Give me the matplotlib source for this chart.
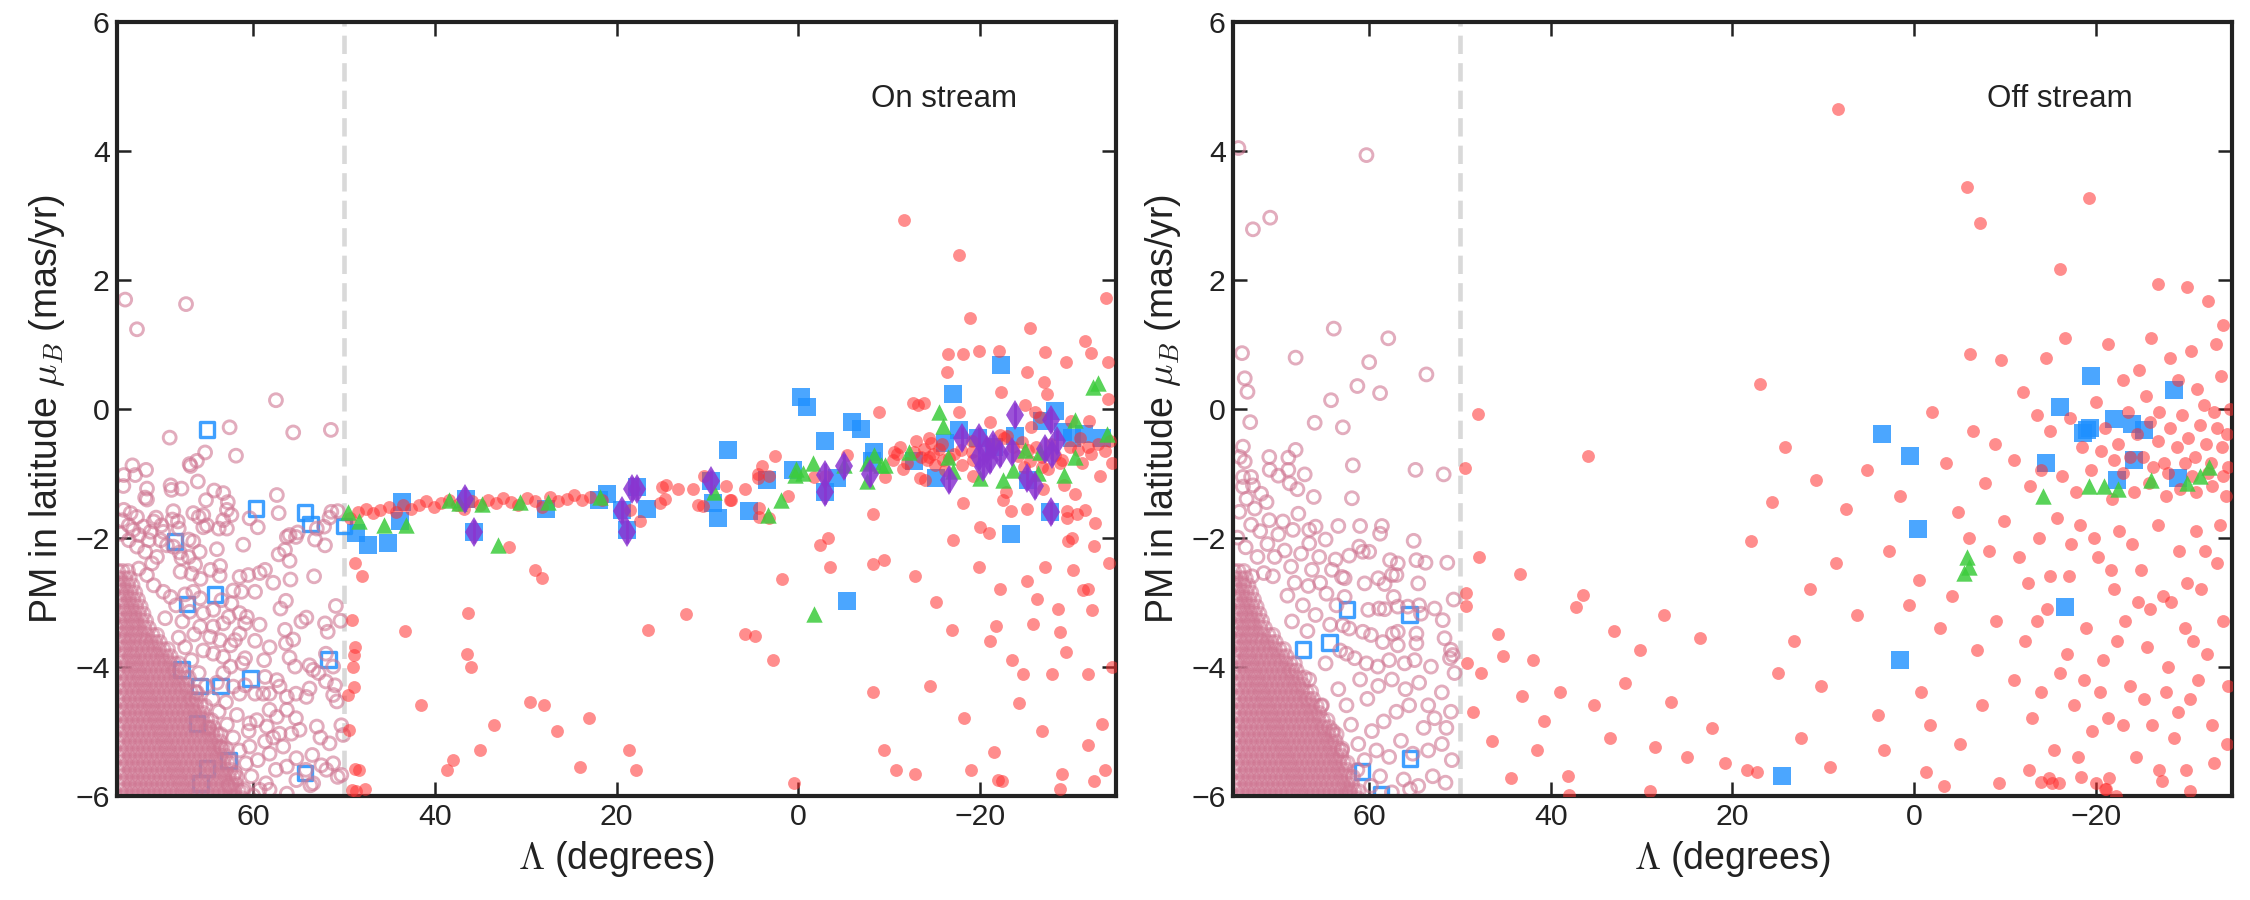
import numpy as np
import matplotlib
matplotlib.use("Agg")
import matplotlib.pyplot as plt

plt.rcParams["font.family"] = ["Liberation Sans", "DejaVu Sans"]
plt.rcParams["mathtext.fontset"] = "cm"

# ---- colours ----
PINK = "#cf7692"
RED = "#ff3030"
BLUE = "#1e90ff"
GREEN = "#3ccc3c"
PURPLE = "#8a35d0"

# ---- dense wedge of field stars (open circles), same in both panels: (mu, [Lambda...]) ----
core_rows = [
    (-2.52, [74.9, 74.4, 73.8]),
    (-2.63, [74.7, 74.1, 73.6]),
    (-2.74, [74.9, 74.3, 73.8, 73.3]),
    (-2.85, [74.6, 74.0, 73.5, 73.0]),
    (-2.96, [74.8, 74.3, 73.7, 73.2, 72.7]),
    (-3.07, [74.5, 74.0, 73.4, 72.9, 72.4]),
    (-3.18, [74.8, 74.2, 73.7, 73.1, 72.6, 72.1]),
    (-3.29, [74.6, 74.0, 73.4, 72.9, 72.3, 71.8]),
    (-3.40, [74.9, 74.3, 73.8, 73.2, 72.6, 72.0, 71.5]),
    (-3.51, [74.6, 74.0, 73.4, 72.9, 72.3, 71.7, 71.1, 70.6]),
    (-3.62, [74.8, 74.2, 73.7, 73.1, 72.5, 71.9, 71.3, 70.8, 70.3]),
    (-3.73, [74.5, 74.0, 73.4, 72.8, 72.2, 71.6, 71.0, 70.4, 69.9, 69.4]),
    (-3.84, [74.8, 74.2, 73.6, 73.1, 72.5, 71.9, 71.3, 70.7, 70.1, 69.6, 69.1]),
    (-3.95, [74.5, 73.9, 73.3, 72.8, 72.2, 71.6, 71.0, 70.4, 69.8, 69.2, 68.7, 68.2]),
    (-4.06, [74.8, 74.2, 73.6, 73.0, 72.5, 71.9, 71.3, 70.7, 70.1, 69.5, 68.9, 68.5, 68.0]),
    (-4.17, [74.5, 73.9, 73.3, 72.7, 72.2, 71.6, 71.0, 70.4, 69.8, 69.2, 68.6, 68.1, 67.6, 67.1]),
    (-4.28, [74.8, 74.2, 73.6, 73.0, 72.4, 71.9, 71.3, 70.7, 70.1, 69.5, 68.9, 68.3, 67.8, 67.3]),
    (-4.39, [74.5, 73.9, 73.3, 72.7, 72.1, 71.6, 71.0, 70.4, 69.8, 69.2, 68.6, 68.0, 67.4, 66.9, 66.4]),
    (-4.50, [74.8, 74.2, 73.6, 73.0, 72.4, 71.8, 71.3, 70.7, 70.1, 69.5, 68.9, 68.3, 67.7, 67.1, 66.7, 66.2]),
    (-4.61, [74.5, 73.9, 73.3, 72.7, 72.1, 71.5, 71.0, 70.4, 69.8, 69.2, 68.6, 68.0, 67.4, 66.8, 66.3, 65.8, 65.3]),
    (-4.72, [74.8, 74.2, 73.6, 73.0, 72.4, 71.8, 71.2, 70.7, 70.1, 69.5, 68.9, 68.3, 67.7, 67.1, 66.5, 66.0, 65.5]),
    (-4.83, [74.5, 73.9, 73.3, 72.7, 72.1, 71.5, 70.9, 70.4, 69.8, 69.2, 68.6, 68.0, 67.4, 66.8, 66.2, 65.6, 65.1, 64.6]),
    (-4.94, [74.8, 74.2, 73.6, 73.0, 72.4, 71.8, 71.2, 70.6, 70.1, 69.5, 68.9, 68.3, 67.7, 67.1, 66.5, 65.9, 65.3, 64.9, 64.4]),
    (-5.05, [74.5, 73.9, 73.3, 72.7, 72.1, 71.5, 70.9, 70.3, 69.8, 69.2, 68.6, 68.0, 67.4, 66.8, 66.2, 65.6, 65.0, 64.5, 64.0, 63.6]),
    (-5.16, [74.8, 74.2, 73.6, 73.0, 72.4, 71.8, 71.2, 70.6, 70.0, 69.5, 68.9, 68.3, 67.7, 67.1, 66.5, 65.9, 65.3, 64.7, 64.2, 63.7]),
    (-5.27, [74.5, 73.9, 73.3, 72.7, 72.1, 71.5, 70.9, 70.3, 69.7, 69.2, 68.6, 68.0, 67.4, 66.8, 66.2, 65.6, 65.0, 64.4, 63.9, 63.4, 63.0]),
    (-5.38, [74.8, 74.2, 73.6, 73.0, 72.4, 71.8, 71.2, 70.6, 70.0, 69.4, 68.9, 68.3, 67.7, 67.1, 66.5, 65.9, 65.3, 64.7, 64.1, 63.6, 63.1]),
    (-5.49, [74.5, 73.9, 73.3, 72.7, 72.1, 71.5, 70.9, 70.3, 69.7, 69.1, 68.6, 68.0, 67.4, 66.8, 66.2, 65.6, 65.0, 64.4, 63.8, 63.3, 62.8, 62.4]),
    (-5.60, [74.8, 74.2, 73.6, 73.0, 72.4, 71.8, 71.2, 70.6, 70.0, 69.4, 68.8, 68.3, 67.7, 67.1, 66.5, 65.9, 65.3, 64.7, 64.1, 63.5, 63.0, 62.5]),
    (-5.71, [74.5, 73.9, 73.3, 72.7, 72.1, 71.5, 70.9, 70.3, 69.7, 69.1, 68.5, 68.0, 67.4, 66.8, 66.2, 65.6, 65.0, 64.4, 63.8, 63.2, 62.7, 62.2, 61.8]),
    (-5.82, [74.8, 74.2, 73.6, 73.0, 72.4, 71.8, 71.2, 70.6, 70.0, 69.4, 68.8, 68.2, 67.7, 67.1, 66.5, 65.9, 65.3, 64.7, 64.1, 63.5, 62.9, 62.4, 61.9]),
    (-5.93, [74.5, 73.9, 73.3, 72.7, 72.1, 71.5, 70.9, 70.3, 69.7, 69.1, 68.5, 67.9, 67.4, 66.8, 66.2, 65.6, 65.0, 64.4, 63.8, 63.2, 62.6, 62.1, 61.6, 61.2]),
    (-6.04, [74.8, 74.2, 73.6, 73.0, 72.4, 71.8, 71.2, 70.6, 70.0, 69.4, 68.8, 68.2, 67.6, 67.1, 66.5, 65.9, 65.3, 64.7, 64.1, 63.5, 62.9, 62.3, 61.8, 61.3]),
]

# ---- left panel (on stream) ----
left_pink = [
    (74.1, 1.69), (67.4, 1.62), (72.8, 1.23), (57.5, 0.13),
    (62.6, -0.29), (69.2, -0.45), (55.6, -0.37), (51.45, -0.33), (65.3, -0.68), (61.9, -0.73),
    (67.0, -0.86), (66.9, -0.89), (66.2, -0.81), (73.3, -0.88), (71.8, -0.95), (74.25, -1.03),
    (73.0, -1.03), (74.3, -1.2), (71.7, -1.24), (71.9, -1.38), (71.7, -1.41), (69.1, -1.19),
    (69.0, -1.26), (67.9, -1.24), (66.1, -1.13), (64.3, -1.27), (65.2, -1.42), (63.3, -1.31),
    (62.8, -1.45), (62.4, -1.65), (62.9, -1.57), (63.3, -1.73), (66.6, -1.62), (66.0, -1.68),
    (65.5, -1.65), (65.1, -1.81), (65.5, -1.84), (68.8, -1.59), (68.9, -1.72), (68.2, -1.86),
    (68.3, -1.75), (70.7, -1.69), (70.1, -1.81), (69.9, -1.91), (60.4, -1.7), (59.5, -1.84),
    (57.2, -1.62), (57.4, -1.34), (63.8, -1.86), (62.9, -1.86), (51.4, -1.6), (52.2, -1.83),
    (53.0, -1.86), (51.6, -1.69), (50.7, -1.59), (56.3, -1.99), (56.0, -1.96), (55.3, -1.99),
    (55.1, -1.92), (53.2, -2.03), (52.1, -2.12), (57.2, -2.26), (56.5, -2.19), (56.0, -2.36),
    (61.1, -2.11), (64.0, -2.18), (67.1, -2.03), (66.6, -2.06), (65.9, -2.22), (67.1, -2.3),
    (66.4, -2.42), (66.8, -2.56), (68.1, -2.23), (67.9, -2.32), (68.0, -2.53), (63.65, -2.44),
    (63.7, -2.59), (64.7, -2.5), (65.8, -2.64), (61.5, -2.61), (60.55, -2.58), (59.3, -2.55),
    (58.7, -2.5), (62.2, -2.82), (61.3, -2.84), (59.8, -2.84), (56.4, -2.98), (54.15, -3.24),
    (50.9, -3.06), (50.4, -3.29), (52.1, -3.33), (51.8, -3.46), (56.5, -3.43), (55.6, -3.58),
    (56.4, -3.64), (59.8, -3.6), (60.9, -3.87), (61.2, -3.95), (56.0, -3.86), (55.4, -4.0),
    (53.8, -3.98), (53.4, -4.05), (52.8, -4.1), (51.2, -4.0), (52.0, -3.8), (52.0, -4.23),
    (51.0, -4.29), (51.2, -4.44), (50.8, -4.54), (53.8, -4.34), (54.15, -4.47), (55.3, -4.42),
    (56.3, -4.67), (55.3, -4.8), (54.9, -4.98), (55.8, -5.04), (57.1, -5.04), (57.8, -5.1),
    (56.7, -5.24), (53.0, -4.93), (51.6, -5.19), (50.3, -4.91), (50.1, -5.06), (53.5, -5.37),
    (52.5, -5.53), (51.2, -5.5), (51.95, -5.6), (50.7, -5.71), (50.3, -5.68), (53.4, -5.81),
    (53.7, -5.84), (55.25, -5.76), (58.6, -5.81), (58.2, -5.91), (59.3, -5.91), (56.3, -5.97),
    (55.25, -5.42), (56.3, -5.55), (58.2, -5.35), (58.7, -5.16), (60.4, -5.24), (57.4, -4.78),
    (58.2, -4.67), (59.6, -4.83), (58.5, -4.93), (60.4, -4.88), (58.9, -4.42), (58.2, -4.42),
    (57.1, -4.31), (56.3, -4.47), (57.4, -4.21), (58.7, -4.16), (59.8, -4.42), (60.9, -4.29),
    (61.5, -4.42), (62.5, -4.0), (63.3, -4.1), (62.2, -4.31), (64.4, -3.8), (63.3, -3.85),
    (62.5, -3.67), (61.5, -3.49), (62.0, -3.59), (63.65, -3.59), (64.75, -3.54), (64.4, -3.38),
    (60.9, -3.33), (60.7, -3.23), (61.5, -3.17), (62.7, -3.23), (63.3, -3.33), (64.4, -3.12),
    (65.5, -3.17), (65.85, -3.38), (62.4, -3.02), (63.5, -2.97), (65.85, -2.94), (66.6, -2.84),
    (67.5, -2.88), (69.1, -2.92), (69.9, -2.84), (70.96, -2.74), (71.7, -2.58), (72.6, -2.48),
    (71.15, -2.4), (70.6, -2.3), (71.9, -2.22), (72.8, -2.14), (73.7, -2.04), (72.6, -1.96),
    (71.5, -2.04), (70.2, -2.04), (69.5, -2.12), (68.8, -2.14), (74.25, -1.57), (73.5, -1.62),
    (72.8, -1.68), (74.4, -1.73), (73.7, -1.81), (73.2, -1.88), (74.6, -1.94), (72.06, -1.83),
    (71.3, -1.91), (70.96, -1.75),
    (67.5, -3.7), (66.8, -3.9), (66.0, -4.1), (65.2, -4.3), (64.5, -4.5), (63.8, -4.7),
    (62.9, -4.9), (62.2, -5.1), (61.5, -5.3), (60.8, -5.5), (60.2, -5.7), (61.0, -5.9),
    (63.0, -4.55), (61.8, -4.75), (60.5, -5.0), (59.5, -5.45), (62.0, -5.65), (64.0, -4.25),
    (65.5, -3.75), (66.5, -3.5), (67.8, -3.3), (68.5, -3.05), (69.7, -3.25), (68.2, -3.55),
    (67.0, -3.15), (66.2, -4.4), (64.9, -4.95), (63.6, -5.25), (62.7, -5.85), (60.0, -6.0),
    (57.5, -5.6), (57.0, -3.1), (58.2, -3.7), (58.8, -3.9), (59.3, -3.35), (57.8, -2.7),
    (54.7, -3.3), (53.3, -2.6), (55.9, -2.65), (52.6, -5.1), (54.2, -5.6),
]

left_red = [
    (49.3, -1.69), (48.5, -1.6), (47.6, -1.55), (46.8, -1.62), (46.0, -1.57), (45.1, -1.52),
    (44.3, -1.6), (43.5, -1.5), (42.6, -1.56), (41.8, -1.5), (41.0, -1.44), (40.1, -1.52),
    (39.3, -1.47), (38.4, -1.42), (37.6, -1.5), (36.8, -1.55), (35.9, -1.44), (35.0, -1.5),
    (34.2, -1.41), (33.3, -1.47), (32.5, -1.38), (31.6, -1.45), (30.8, -1.5), (29.9, -1.39),
    (29.0, -1.44), (28.2, -1.52), (27.3, -1.37), (26.4, -1.44), (25.5, -1.4), (24.7, -1.34),
    (23.8, -1.42), (22.9, -1.37), (21.6, -1.41),
    (18.5, -1.57), (17.4, -1.74), (15.0, -1.21), (14.5, -1.19), (13.2, -1.24), (11.6, -1.24),
    (15.2, -1.46), (14.7, -1.4), (10.4, -1.04), (11.0, -1.49), (10.5, -1.51), (7.9, -1.2),
    (7.5, -1.42), (7.4, -1.42), (5.8, -1.25), (4.0, -0.89), (4.4, -1.02), (4.4, -1.07),
    (3.2, -1.05), (2.5, -0.73), (1.1, -1.35), (4.3, -1.54), (4.3, -1.68), (3.2, -1.7),
    (-1.7, -1.06), (-2.9, -1.05), (-5.4, -0.72),
    (-16.5, 0.85), (-18.1, 0.85), (-19.9, 0.9), (-22.1, 0.9), (-27.2, 0.88), (-29.5, 0.72),
    (-16.4, 0.56), (-25.2, 0.56), (-27.1, 0.41), (-27.4, 0.22), (-22.3, 0.26), (-8.9, -0.05),
    (-12.6, 0.09), (-13.2, 0.05), (-13.8, 0.08), (-17.7, -0.05), (-21.1, -0.2), (-25.0, 0.05),
    (-26.1, -0.05), (-25.6, -0.28), (-30.0, -0.19), (-32.0, -0.19),
    (-9.6, -1.06), (-10.5, -0.67), (-10.9, -0.7), (-11.5, -0.94), (-10.4, -0.8),
    (-14.4, -0.46), (-14.6, -0.54), (-15.5, -0.62), (-14.4, -0.75), (-14.2, -0.8), (-15.1, -0.88),
    (-16.0, -0.8), (-16.6, -0.77), (-18.0, -0.88), (-19.1, -0.67), (-19.3, -0.8), (-17.9, -0.64),
    (-19.1, -0.5), (-13.4, -1.08), (-14.0, -1.11), (-18.1, -1.46), (-19.2, -1.05), (-22.2, -0.41),
    (-23.0, -0.43), (-22.7, -0.46), (-22.9, -1.3), (-22.5, -1.42), (-23.4, -1.58), (-25.2, -1.56),
    (-24.2, -0.74), (-25.5, -0.82), (-25.3, -0.64), (-27.0, -1.25), (-26.8, -0.9), (-27.5, -0.93),
    (-29.3, -1.18), (-30.5, -1.33), (-29.6, -1.58), (-29.6, -1.7), (-30.7, -1.64), (-31.6, -1.57),
    (-29.7, -2.06), (-30.1, -2.01), (-29.9, -0.59), (-30.8, -0.64), (-31.9, -0.59), (-29.0, -0.8),
    (-28.8, -0.85), (-20.0, -1.83), (-21.0, -1.93), (-17.0, -2.04), (-8.2, -1.63), (-2.4, -2.12),
    (-3.3, -2.01), (-3.5, -2.46), (1.8, -2.64), (-8.2, -2.41), (-9.5, -2.34), (-12.9, -2.59),
    (-15.2, -3.0), (-19.9, -2.45), (-27.2, -2.45), (-25.2, -2.67), (-22.2, -2.79), (-26.3, -2.95),
    (-28.6, -3.1), (-31.4, -2.82), (-31.9, -2.79), (-32.6, -2.13), (-32.7, -1.78), (-21.8, -3.37),
    (-21.1, -3.6), (-25.9, -3.34), (-28.8, -3.46), (12.4, -3.18), (16.5, -3.44), (5.9, -3.49),
    (4.8, -3.53), (-32.4, -3.12),
    (-13.9, -0.62), (-14.8, -0.7), (-15.8, -0.55), (-13.5, -0.75), (-12.8, -0.68), (-16.2, -0.95),
    (-12.0, -0.85), (-11.2, -0.6), (-17.2, -0.7), (-13.0, -0.5),
    (-21.5, -0.55), (-23.6, -0.6), (-24.6, -0.52), (-26.2, -0.6), (-27.8, -0.55), (-28.3, -0.72),
    (-31.0, -0.45), (-32.2, -0.7), (-33.0, -0.55), (-33.8, -0.65), (-34.3, -0.5), (-26.9, -0.75),
    (-24.9, -0.9), (-31.3, -0.85), (-33.2, -1.05), (-34.5, -0.85),
    (-33.9, 1.71), (-25.5, 1.25), (-31.6, 1.05), (-32.2, 0.86), (-34.1, 0.73), (-26.6, -0.13),
    (-34.1, 0.15), (-11.7, 2.93), (-17.7, 2.38), (-18.9, 1.4),
    (-27.9, -4.11), (-29.5, -3.78), (-31.9, -4.11), (-24.3, -4.56), (-26.8, -5.0), (-31.9, -5.22),
    (-33.4, -4.89), (-21.6, -5.33), (-29.0, -5.67), (-32.6, -5.78), (-22.4, -5.78), (-24.8, -4.11),
    (-10.8, -5.6), (-19.0, -5.6), (-22.0, -5.76), (-28.8, -5.89), (48.3, -5.6), (47.7, -5.9),
    (48.7, -5.93), (38.7, -5.6), (17.9, -5.6),
    (48.8, -2.39), (48.0, -2.6), (29.0, -2.5), (28.2, -2.63), (36.3, -3.17), (31.8, -2.14),
    (49.1, -3.28), (48.85, -3.69), (48.95, -3.82), (49.0, -4.0), (48.95, -4.31), (49.6, -4.44),
    (49.5, -4.98), (48.85, -5.58), (49.1, -5.91),
    (43.3, -3.45), (41.5, -4.6), (38.0, -5.45), (36.5, -3.8), (36.0, -4.0), (35.0, -5.3),
    (33.5, -4.9), (29.5, -4.55), (28.0, -4.6), (26.5, -5.0), (24.0, -5.55), (23.0, -4.8),
    (18.6, -5.29), (2.8, -3.9), (0.5, -5.8), (-8.2, -4.4), (-9.5, -5.3), (-12.9, -5.67),
    (-16.9, -3.44), (-14.5, -4.3), (-18.3, -4.8), (-34.2, -2.4), (-34.6, -4.0), (-33.8, -5.6),
    (-23.5, -3.9), (-30.3, -2.5),
]

left_blue = [
    (48.7, -1.93), (47.4, -2.12), (45.2, -2.08), (43.6, -1.45), (43.8, -1.75), (36.6, -1.4),
    (35.7, -1.91), (27.8, -1.55), (21.0, -1.32), (21.9, -1.41), (19.4, -1.57), (18.9, -1.88),
    (17.8, -1.22), (16.6, -1.55), (9.56, -1.13), (9.4, -1.46), (8.8, -1.69), (7.7, -0.64),
    (5.4, -1.59), (3.46, -1.1), (0.6, -0.95), (-0.27, 0.18), (-0.93, 0.03), (-2.9, -0.51),
    (-2.9, -1.3), (-4.3, -1.07), (-5.9, -0.2), (-6.96, -0.31), (-8.4, -0.67), (-8.1, -0.82),
    (-5.35, -2.98), (-12.7, -0.81), (-15.2, -1.07), (-16.2, -0.53), (-17.1, 0.22), (-17.7, -0.33),
    (-19.8, -0.46), (-22.3, 0.67), (-23.9, -0.43), (-23.4, -1.95), (-21.6, -0.59), (-26.9, -0.19),
    (-28.3, -0.03), (-29.2, -0.37), (-25.3, -1.11), (-30.1, -0.46), (-27.7, -1.61), (-31.5, -0.4),
    (-33.4, -0.45),
]
left_blue_open = [
    (65.1, -0.32), (59.7, -1.55), (54.3, -1.61), (53.7, -1.79), (50.0, -1.82), (68.6, -2.06),
    (64.2, -2.88), (67.3, -3.03), (51.7, -3.89), (60.3, -4.18), (63.6, -4.3), (65.9, -4.3),
    (67.9, -4.05), (66.2, -4.88), (62.7, -5.46), (65.1, -5.58), (54.3, -5.65), (65.8, -5.81),
]
left_green = [
    (49.6, -1.6), (48.4, -1.75), (45.6, -1.8), (43.2, -1.8), (38.5, -1.42), (37.3, -1.47),
    (34.8, -1.48), (33.0, -2.12), (30.6, -1.45), (27.6, -1.45), (21.8, -1.37), (9.3, -1.29),
    (1.9, -1.42), (3.3, -1.65), (0.24, -0.93), (-0.49, -1.0), (0.35, -1.03), (-1.66, -0.85),
    (-1.7, -3.18), (-5.1, -0.88), (-7.6, -0.85), (-7.6, -1.13), (-9.1, -0.88), (-9.6, -0.88),
    (-8.3, -0.72), (-12.2, -0.67), (-15.5, -0.05), (-16.0, -0.27), (-16.5, -0.75), (-17.0, -0.96),
    (-20.0, -1.08), (-22.5, -1.11), (-23.6, -0.95), (-25.0, -0.64), (-26.6, -0.67), (-26.4, -1.0),
    (-30.5, -0.18), (-30.5, -0.75), (-29.3, -1.03), (-32.5, 0.34), (-33.0, 0.39), (-34.0, -0.4),
]
left_purple = [
    (36.7, -1.4), (35.7, -1.91), (18.3, -1.24), (17.8, -1.24), (19.4, -1.59), (18.9, -1.91),
    (9.6, -1.13), (-2.97, -1.03), (-2.94, -1.3), (-5.1, -0.89), (-7.9, -1.02), (-16.6, -1.11),
    (-18.0, -0.46), (-19.9, -0.46), (-19.9, -0.75), (-20.4, -0.9), (-20.8, -0.64), (-21.5, -0.57),
    (-22.2, -0.71), (-21.1, -0.8), (-23.5, -0.67), (-23.9, -0.1), (-25.2, -1.08), (-26.1, -1.2),
    (-27.2, -0.62), (-27.9, -0.7), (-28.5, -0.51), (-27.8, -0.18), (-27.8, -1.61),
]

# ---- right panel (off stream) ----
right_pink = [
    (74.4, 4.04), (72.8, 2.78), (70.9, 2.96), (60.3, 3.93), (57.9, 1.09), (63.9, 1.24),
    (74.0, 0.86), (73.7, 0.47), (73.4, 0.26), (68.1, 0.79), (60.0, 0.72), (53.7, 0.53),
    (61.3, 0.35), (58.8, 0.24), (64.2, 0.13), (73.1, -0.21), (66.0, -0.22), (62.9, -0.29),
    (73.9, -0.59), (73.7, -0.82), (74.25, -0.75), (71.0, -0.75), (70.95, -0.95), (70.0, -1.04),
    (68.9, -0.76), (68.9, -0.95), (68.1, -0.64), (67.1, -1.02), (68.75, -1.16), (67.9, -1.25),
    (66.1, -1.37), (61.8, -0.88), (61.9, -1.39), (54.9, -0.95), (51.8, -1.02), (73.9, -1.06),
    (73.0, -1.06), (73.9, -1.21), (72.8, -1.19), (71.9, -1.32), (71.3, -1.45), (71.0, -1.73),
    (69.5, -1.75), (67.8, -1.63), (68.4, -1.88), (66.6, -1.88), (65.9, -1.83), (66.6, -2.09),
    (63.4, -1.82), (61.0, -1.82), (58.6, -1.82), (58.8, -1.94), (55.1, -2.05), (64.8, -2.03),
    (63.7, -2.34), (62.2, -2.28), (61.1, -2.14), (60.7, -2.22), (60.0, -2.22), (57.7, -2.35),
    (56.85, -2.4), (54.8, -2.35), (53.8, -2.39), (51.4, -2.39), (64.1, -2.5), (62.7, -2.63),
    (63.0, -2.61), (60.5, -2.71), (59.0, -2.63), (58.3, -2.72), (57.5, -2.58), (57.0, -2.58),
    (54.6, -2.71), (64.7, -2.87), (63.6, -3.05), (62.7, -2.92), (60.1, -3.12), (58.9, -3.1),
    (58.3, -3.11), (57.3, -2.92), (56.85, -3.07), (55.75, -3.07), (54.5, -3.05), (54.3, -3.18),
    (52.8, -3.1), (51.9, -3.28), (50.7, -2.96), (62.9, -3.36), (62.2, -3.41), (60.7, -3.46),
    (59.8, -3.51), (57.4, -3.49), (56.85, -3.46), (54.8, -3.49), (51.7, -3.56), (51.0, -3.74),
    (51.1, -3.87), (50.8, -3.82), (58.5, -3.62), (56.85, -3.67), (54.8, -3.64), (55.0, -3.9),
    (56.1, -3.95), (57.8, -3.9), (59.05, -4.0), (60.3, -3.95), (61.6, -3.87), (62.5, -3.8),
    (73.5, -1.4), (72.6, -1.55), (74.3, -1.6), (73.0, -1.8), (72.0, -1.9), (74.5, -2.0),
    (73.6, -2.15), (72.3, -2.3), (71.2, -2.1), (70.4, -2.3), (70.0, -1.95), (69.3, -2.2),
    (68.6, -2.45), (67.5, -2.25), (66.3, -2.5), (65.5, -2.3), (65.4, -2.7), (66.7, -2.75),
    (68.2, -2.7), (69.0, -2.9), (70.6, -2.6), (71.6, -2.55), (72.9, -2.6), (67.3, -3.05),
    (65.9, -3.2), (64.3, -3.35), (66.8, -3.45), (68.5, -3.3), (63.2, -3.75), (64.8, -3.95),
    (61.0, -4.2), (60.2, -4.5), (59.0, -4.3), (57.5, -4.2), (56.0, -4.35), (54.5, -4.25),
    (53.2, -4.0), (52.0, -4.4), (51.0, -4.7), (52.8, -4.8), (54.0, -4.95), (55.6, -4.6),
    (57.0, -4.7), (58.4, -4.85), (59.7, -5.0), (61.2, -5.2), (60.5, -5.45), (59.2, -5.3),
    (57.8, -5.4), (56.5, -5.15), (55.2, -5.35), (53.5, -5.3), (52.0, -5.2), (50.9, -5.45),
    (51.6, -5.8), (53.0, -5.7), (54.6, -5.85), (56.2, -5.75), (57.5, -5.95), (58.8, -5.7),
    (59.8, -5.85), (62.5, -4.6), (63.4, -4.35), (62.0, -4.9), (61.3, -5.6), (63.0, -5.3),
    (65.2, -4.6), (66.6, -4.2), (64.0, -5.0), (62.2, -5.95), (50.6, -4.1), (51.5, -4.95),
    (53.5, -4.6), (55.5, -5.9),
]

right_red = [
    (48.0, -0.09), (49.4, -0.92), (47.9, -2.3), (43.4, -2.57), (49.3, -2.86), (49.3, -3.06),
    (45.8, -3.49), (45.3, -3.84), (49.2, -3.94), (47.7, -4.1), (44.4, -5.72), (48.6, -4.7),
    (46.5, -5.15), (43.2, -4.45), (41.5, -5.3), (42.0, -3.9), (40.8, -4.85),
    (35.9, -0.74), (36.5, -2.89), (37.2, -3.08), (38.1, -5.69), (38.0, -5.99), (29.1, -5.93),
    (39.0, -4.4), (35.2, -4.6), (33.5, -5.1), (31.8, -4.25), (30.2, -3.75), (28.5, -5.25),
    (26.8, -4.55), (25.0, -5.4), (23.6, -3.55), (22.2, -4.95), (20.8, -5.5), (33.0, -3.45),
    (27.5, -3.2),
    (17.0, 0.38), (8.4, 4.65), (18.4, -5.6), (17.3, -5.63), (18.0, -2.05), (15.6, -1.45),
    (13.2, -3.6), (11.5, -2.8), (10.2, -4.3), (8.6, -2.4), (7.5, -1.55), (6.3, -3.2),
    (5.2, -0.95), (4.0, -4.75), (2.8, -2.2), (1.5, -1.35), (0.6, -3.05), (-0.5, -2.65),
    (12.4, -5.1), (15.0, -4.1), (9.3, -5.55), (3.3, -5.3), (-1.3, -5.63), (-0.8, -4.4),
    (14.2, -0.6), (10.8, -1.1),
    (-5.8, 3.44), (-7.3, 2.88), (-6.2, 0.85), (-9.6, 0.75), (-2.0, -0.05), (-3.5, -0.85),
    (-4.8, -1.6), (-6.5, -0.35), (-7.8, -1.15), (-8.9, -0.55), (-2.8, -3.4), (-4.2, -2.9),
    (-6.9, -3.75), (-8.2, -2.2), (-9.4, -5.81), (-1.8, -4.9), (-5.0, -5.2), (-7.5, -4.6),
    (-3.3, -5.85), (-9.0, -3.3), (-6.0, -2.0), (-9.9, -1.75),
    (-16.1, 2.16), (-19.3, 3.27), (-26.9, 1.93), (-30.1, 1.89), (-32.4, 1.67), (-34.0, 1.3),
    (-21.4, 1.0), (-23.0, 0.44), (-26.1, 1.1), (-28.2, 0.78), (-30.5, 0.9), (-33.2, 1.0),
    (-16.6, 1.1), (-14.5, 0.78), (-12.0, 0.25), (-13.5, -0.1), (-15.0, -0.35), (-17.2, -0.15),
    (-18.5, -0.6), (-20.0, 0.1), (-21.0, -0.3), (-22.5, -0.55), (-23.6, -0.05), (-24.5, -0.4),
    (-25.2, -0.75), (-26.0, -0.2), (-26.8, -0.5), (-27.5, -0.85), (-28.2, -0.3), (-28.9, -0.6),
    (-29.5, -0.1), (-30.2, -0.45), (-30.9, -0.75), (-31.5, -0.25), (-32.1, -0.55), (-32.7, -0.85),
    (-33.3, -0.3), (-33.9, -0.6), (-34.5, -0.4), (-34.6, -0.9), (-31.2, 0.3), (-29.0, 0.45),
    (-25.5, 0.2), (-33.8, 0.5), (-11.0, -0.8), (-12.8, -1.2), (-14.0, -0.95), (-16.3, -1.05),
    (-17.8, -1.3), (-19.5, -0.95), (-21.8, -1.4), (-23.0, -1.0), (-24.2, -1.3), (-25.9, -1.15),
    (-27.7, -1.35), (-29.3, -1.25), (-31.0, -1.3), (-32.8, -1.2), (-34.3, -1.35), (-22.0, -0.8),
    (-27.0, -0.05), (-24.8, 0.6), (-20.6, -0.65), (-34.8, 0.0), (-33.0, -0.05), (-31.9, 0.05),
    (-29.8, -0.85), (-28.0, -1.0), (-26.3, -0.9), (-23.8, -0.75), (-32.4, -1.0), (-30.6, -1.05),
    (-34.0, -1.05),
    (-11.5, -2.3), (-12.2, -3.6), (-13.0, -4.8), (-13.8, -2.0), (-14.6, -3.1), (-15.4, -5.3),
    (-16.1, -4.1), (-17.0, -2.6), (-17.6, -4.6), (-18.3, -1.8), (-18.9, -3.4), (-19.6, -5.0),
    (-20.2, -2.3), (-20.8, -3.9), (-21.4, -4.8), (-22.0, -2.8), (-22.6, -1.9), (-23.2, -3.3),
    (-23.8, -4.3), (-24.4, -5.4), (-25.0, -2.5), (-25.6, -3.7), (-26.2, -4.9), (-26.8, -1.8),
    (-27.4, -2.9), (-28.0, -4.0), (-28.6, -5.1), (-29.2, -2.2), (-29.8, -3.4), (-30.4, -4.5),
    (-31.0, -1.9), (-31.6, -2.8), (-32.2, -3.8), (-32.8, -4.9), (-33.4, -2.4), (-34.0, -3.3),
    (-34.6, -4.3), (-12.7, -5.6), (-15.0, -2.6), (-18.0, -5.4), (-21.0, -5.9), (-24.0, -2.1),
    (-27.0, -5.6), (-30.0, -2.7), (-33.0, -5.5), (-11.0, -4.2), (-14.0, -4.4), (-19.8, -2.0),
    (-23.0, -4.9), (-26.0, -3.1), (-29.0, -4.7), (-32.0, -2.2), (-34.5, -5.2), (-16.8, -3.8),
    (-22.3, -3.6), (-28.3, -3.0), (-31.3, -4.2), (-25.3, -4.5), (-20.5, -4.4), (-13.5, -3.3),
    (-17.3, -2.1), (-33.7, -1.8), (-30.7, -3.6), (-27.7, -4.4), (-24.7, -3.0), (-21.7, -2.5),
    (-18.7, -4.2), (-15.7, -1.7), (-12.5, -2.7),
    (-14.0, -5.79), (-14.8, -5.72), (-15.2, -5.8), (-16.0, -5.8), (-18.4, -5.71), (-20.0, -5.81),
    (-21.5, -5.72), (-21.1, -5.89), (-22.2, -6.0), (-27.3, -5.77), (-29.9, -5.6), (-30.4, -5.93),
]

right_blue = [
    (3.5, -0.4), (0.4, -0.73), (-0.4, -1.87), (1.5, -3.89), (14.6, -5.69), (-14.5, -0.84),
    (-16.1, 0.02), (-16.6, -3.07), (-19.0, -0.33), (-18.6, -0.38), (-19.4, -0.3), (-19.5, 0.51),
    (-22.0, -0.16), (-24.0, -0.24), (-25.3, -0.33), (-24.2, -0.8), (-22.3, -1.1), (-28.6, 0.29),
    (-29.0, -1.07),
]
right_blue_open = [
    (62.45, -3.12), (55.6, -3.19), (64.4, -3.63), (67.3, -3.74), (60.8, -5.63), (58.7, -5.98),
    (55.5, -5.42),
]
right_green = [
    (-5.8, -2.3), (-6.0, -2.45), (-5.5, -2.55), (-14.2, -1.35), (-19.3, -1.2), (-20.9, -1.2),
    (-22.5, -1.25), (-26.1, -1.1), (-30.1, -1.15), (-31.5, -1.05), (-32.5, -0.9),
]

core = np.array([(lam, mu) for mu, lams in core_rows for lam in lams])


def xy(pts):
    a = np.array(pts, dtype=float)
    return a[:, 0], a[:, 1]


def draw_panel(ax, pink, red, blue, blue_open, green, purple, label):
    ax.axvline(50, color="#d9d9d9", lw=2.2, ls=(0, (4, 2)), zorder=0)

    x, y = xy(blue_open)
    ax.scatter(x, y, marker="s", s=50, facecolors="none", edgecolors=BLUE,
               linewidths=1.6, alpha=0.85, zorder=1)
    x, y = xy(blue)
    ax.scatter(x, y, marker="s", s=70, color=BLUE, alpha=0.8, lw=0, zorder=1)

    ax.scatter(core[:, 0], core[:, 1], s=40, facecolors="none", edgecolors=PINK,
               linewidths=1.4, alpha=0.55, zorder=2)
    x, y = xy(pink)
    ax.scatter(x, y, s=38, facecolors="none", edgecolors=PINK,
               linewidths=1.4, alpha=0.6, zorder=2)

    x, y = xy(red)
    ax.scatter(x, y, s=38, color=RED, alpha=0.55, lw=0, zorder=3)

    if green:
        x, y = xy(green)
        ax.scatter(x, y, marker="^", s=62, color=GREEN, alpha=0.85, lw=0, zorder=4)
    if purple:
        x, y = xy(purple)
        ax.errorbar(x, y, yerr=0.18, fmt="d", ms=10.5, color=PURPLE, mec="none",
                    elinewidth=1.4, capsize=0, alpha=0.85, zorder=5)

    ax.set_xlim(75, -35)
    ax.set_ylim(-6, 6)
    ax.set_xticks([60, 40, 20, 0, -20])
    ax.set_yticks([-6, -4, -2, 0, 2, 4, 6])
    ax.tick_params(direction="in", top=True, right=True, length=6.5, width=1.2,
                   labelsize=14.5, colors="#222222")
    for sp in ax.spines.values():
        sp.set_linewidth(2.0)
        sp.set_color("#222222")
    ax.set_xlabel(r"$\Lambda$ (degrees)", fontsize=18, color="#222222")
    ax.set_ylabel(r"PM in latitude $\mu_B$ (mas/yr)", fontsize=18, color="#222222")
    ax.text(0.755, 0.9, label, transform=ax.transAxes, fontsize=15, va="center",
            color="#222222")


fig, (ax1, ax2) = plt.subplots(1, 2, figsize=(15, 6), dpi=150)
fig.subplots_adjust(left=0.052, right=0.992, top=0.976, bottom=0.116, wspace=0.117)

draw_panel(ax1, left_pink, left_red, left_blue, left_blue_open, left_green, left_purple,
           "On stream")
draw_panel(ax2, right_pink, right_red, right_blue, right_blue_open, right_green, [],
           "Off stream")

fig.savefig("out.png", dpi=150, facecolor="white")
